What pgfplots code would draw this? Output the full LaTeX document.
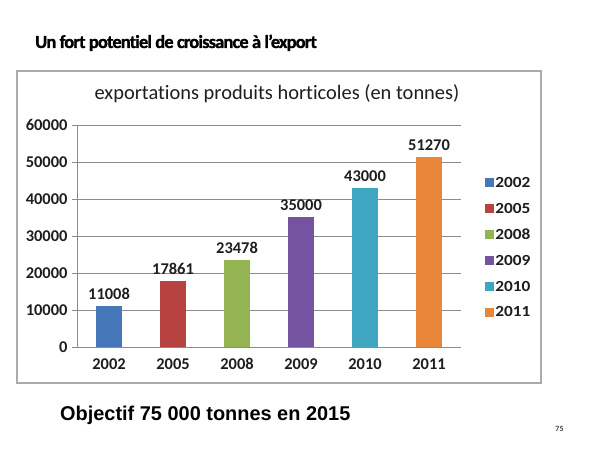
\documentclass[border=0pt]{standalone}
\usepackage{fontspec}
\setmainfont{Carlito}
\newfontfamily\chartfont[Ligatures=NoCommon]{Carlito}
\newfontfamily\legfont[FakeStretch=1.12]{Carlito}
\newfontfamily\slidetitlefont[LetterSpace=-4.5,FakeBold=1.2,Ligatures=NoCommon,UprightFont={Carlito Bold}]{Carlito}
\newfontfamily\arialfont{Liberation Sans}
\usepackage{pgfplots}
\pgfplotsset{compat=1.18}
\definecolor{cA}{HTML}{4677B8}
\definecolor{cB}{HTML}{B8423F}
\definecolor{cC}{HTML}{93B451}
\definecolor{cD}{HTML}{7453A0}
\definecolor{cE}{HTML}{3FA6C2}
\definecolor{cF}{HTML}{E8863A}
\definecolor{gridc}{HTML}{8C8C8C}
\definecolor{framec}{HTML}{ABABAB}
\definecolor{txt}{HTML}{1E1E1E}
\begin{document}
\begin{tikzpicture}
\path[use as bounding box,fill=white] (0,0) rectangle (600bp,450bp);
% slide title
\node[anchor=base west,inner sep=0] at (35bp,402bp) {\slidetitlefont\fontsize{18.5}{18.5}\selectfont Un fort potentiel de croissance à l’export};
% frame
\draw[framec,line width=1.2bp] (17bp,379bp) rectangle (541bp,67bp);
% chart title
\node[anchor=base,inner sep=0] at (277bp,350bp) {\chartfont\fontsize{20.5}{20.5}\selectfont\color{txt}exportations produits horticoles (en tonnes)};
\begin{axis}[
  at={(77bp,103bp)}, anchor=south west,
  scale only axis, width=384bp, height=222bp,
  xmin=-0.5, xmax=5.5, ymin=0, ymax=60000,
  axis x line*=bottom, axis y line*=left,
  axis line style={gridc,line width=0.8bp},
  ytick={0,10000,...,60000},
  yticklabel style={/pgf/number format/fixed,/pgf/number format/1000 sep={}},
  scaled y ticks=false,
  /pgf/number format/assume math mode=true,
  ymajorgrids, major grid style={gridc,line width=0.8bp},
  xtick={0,1,2,3,4,5}, xticklabels={2002,2005,2008,2009,2010,2011},
  extra x ticks={-0.5,0.5,1.5,2.5,3.5,4.5,5.5}, extra x tick labels={},
  extra x tick style={major tick length=5bp, tick style={gridc,line width=0.8bp}, tick align=outside, grid=none},
  xtick style={draw=none},
  ytick style={gridc,line width=0.8bp},
  tick align=outside, major tick length=5bp,
  ticklabel style={font=\chartfont\bfseries\fontsize{16.5}{16.5}\selectfont, text=txt},
  xticklabel style={anchor=base, yshift=-18bp, text height=11bp, text depth=0pt},
  yticklabel style={xshift=-1bp},
  ybar, bar width=26bp, bar shift=0pt,
  nodes near coords,
  nodes near coords style={font=\chartfont\bfseries\fontsize{16.5}{16.5}\selectfont, text=txt, yshift=3bp, /pgf/number format/fixed,/pgf/number format/1000 sep={}, /pgf/number format/assume math mode=true},
  legend style={at={(1.063,0.775)}, anchor=north west, draw=none, fill=none,
    font=\legfont\bfseries\fontsize{15.5}{15.5}\selectfont, text=txt, row sep=10.2bp, inner sep=0pt,
    nodes={inner xsep=1.5bp}},
  legend cell align=left,
  legend image code/.code={\fill[#1,draw=none] (0bp,-4.5bp) rectangle (8.5bp,4.5bp);},
]
\addplot[fill=cA,draw=none] coordinates {(0,11008)};
\addplot[fill=cB,draw=none] coordinates {(1,17861)};
\addplot[fill=cC,draw=none] coordinates {(2,23478)};
\addplot[fill=cD,draw=none] coordinates {(3,35000)};
\addplot[fill=cE,draw=none] coordinates {(4,43000)};
\addplot[fill=cF,draw=none] coordinates {(5,51270)};
\legend{2002,2005,2008,2009,2010,2011}
\end{axis}
% bottom text
\node[anchor=base west,inner sep=0] at (60bp,30bp) {\arialfont\bfseries\fontsize{20}{20}\selectfont Objectif 75 000 tonnes en 2015};
\node[anchor=center,inner sep=0] at (559.5bp,21bp) {\fontsize{8}{8}\selectfont\color{darkgray}\bfseries 75};
\end{tikzpicture}
\end{document}
